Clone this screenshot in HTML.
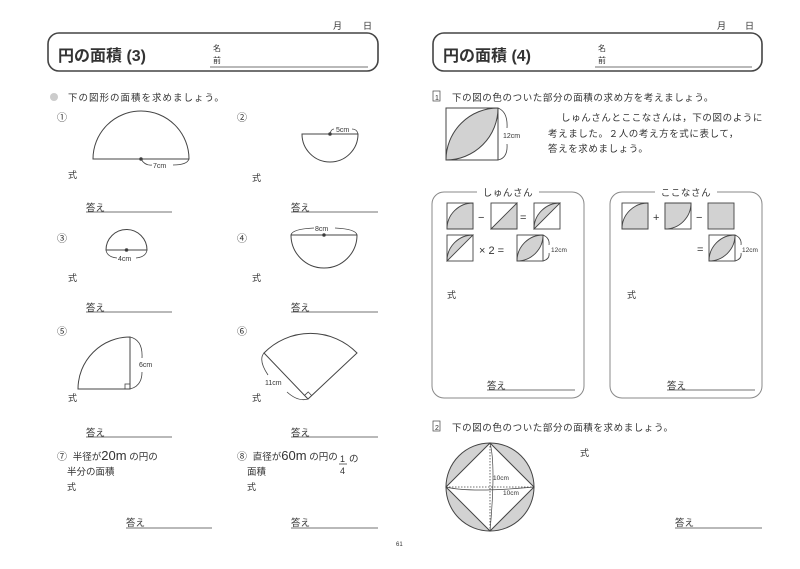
<!DOCTYPE html>
<html><head><meta charset="utf-8"><style>
html,body{margin:0;padding:0;background:#fff;}
svg{display:block;}
text{font-family:"Liberation Sans","Noto Sans CJK JP",sans-serif;fill:#333;}
</style></head><body>
<svg width="800" height="569" viewBox="0 0 800 569" xmlns="http://www.w3.org/2000/svg">
<defs>
<g id="sqQ"><rect x="0" y="0" width="26" height="26" fill="#fff" stroke="#444" stroke-width="0.9"/><path d="M0 26 A26 26 0 0 1 26 0 L26 26 Z" fill="#d2d2d2" stroke="#444" stroke-width="0.9"/></g>
<g id="sqT"><rect x="0" y="0" width="26" height="26" fill="#fff" stroke="#444" stroke-width="0.9"/><path d="M0 26 L26 0 L26 26 Z" fill="#d2d2d2" stroke="#444" stroke-width="0.9"/></g>
<g id="sqS"><rect x="0" y="0" width="26" height="26" fill="#fff" stroke="#444" stroke-width="0.9"/><path d="M0 26 A26 26 0 0 1 26 0 Z" fill="#d2d2d2" stroke="#444" stroke-width="0.9"/></g>
<g id="sqL"><rect x="0" y="0" width="26" height="26" fill="#fff" stroke="#444" stroke-width="0.9"/><path d="M0 26 A26 26 0 0 1 26 0 A26 26 0 0 1 0 26 Z" fill="#d2d2d2" stroke="#444" stroke-width="0.9"/></g>
<g id="sqR"><rect x="0" y="0" width="26" height="26" fill="#fff" stroke="#444" stroke-width="0.9"/><path d="M0 0 L26 0 A26 26 0 0 1 0 26 Z" fill="#d2d2d2" stroke="#444" stroke-width="0.9"/></g>
</defs>
<g stroke="#444" fill="none" stroke-width="1">
<!-- LEFT PAGE -->
<rect x="48" y="33" width="330" height="38" rx="11" stroke-width="1.6"/>
<line x1="210" y1="67" x2="368" y2="67" stroke-width="0.8"/>
<circle cx="54" cy="97" r="4" fill="#ccc" stroke="none"/>
<path d="M93 159 A48 48 0 0 1 189 159 Z"/>
<circle cx="141" cy="159" r="1.3" fill="#333"/>
<path d="M141 159 Q145 166 152 165 M173 165 Q187 165 189 159" stroke-width="0.8"/>
<path d="M302 134 A28 28 0 0 0 358 134 Z"/>
<circle cx="330" cy="134" r="1.3" fill="#333"/>
<path d="M330 134 Q331 129 334 129 M352 129 Q357 129 358 134" stroke-width="0.8"/>
<line x1="86" y1="212" x2="172" y2="212" stroke-width="0.8"/>
<line x1="291" y1="212" x2="378" y2="212" stroke-width="0.8"/>
<path d="M106 250 A20.5 20.5 0 0 1 147 250 Z"/>
<circle cx="126.5" cy="250" r="1.3" fill="#333"/>
<path d="M106 250 Q107 257 117 258 M136 258 Q146 257 147 250" stroke-width="0.8"/>
<path d="M291 235 A33 33 0 0 0 357 235 Z"/>
<circle cx="324" cy="235" r="1.3" fill="#333"/>
<path d="M291 235 Q292 229 314 228 M335 228 Q356 229 357 235" stroke-width="0.8"/>
<line x1="86" y1="312" x2="172" y2="312" stroke-width="0.8"/>
<line x1="291" y1="312" x2="378" y2="312" stroke-width="0.8"/>
<path d="M78 389 A52 52 0 0 1 130 337 L130 389 Z"/>
<rect x="125" y="384" width="5" height="5" stroke-width="0.8"/>
<path d="M130 337 Q143 340 142 358 M142 372 Q142 386 130 389" stroke-width="0.8"/>
<path d="M308 399 L264 353 A65 65 0 0 1 357 353 Z"/>
<path d="M304.5 395.4 L308.2 391.9 L311.7 395.6" stroke-width="0.8"/>
<path d="M264 353 Q258 360 268 375 M287 392 Q298 402 308 399" stroke-width="0.8"/>
<line x1="86" y1="437" x2="172" y2="437" stroke-width="0.8"/>
<line x1="291" y1="437" x2="378" y2="437" stroke-width="0.8"/>
<line x1="126" y1="528" x2="212" y2="528" stroke-width="0.8"/>
<line x1="291" y1="528" x2="378" y2="528" stroke-width="0.8"/>
<line x1="339" y1="464" x2="347" y2="464" stroke-width="0.8"/>

<!-- RIGHT PAGE -->
<rect x="433" y="33" width="329" height="38" rx="11" stroke-width="1.6"/>
<line x1="595" y1="67" x2="752" y2="67" stroke-width="0.8"/>
<rect x="433" y="91" width="7" height="10" stroke-width="0.7"/>
<rect x="446" y="108" width="52" height="52" stroke-width="1"/>
<path d="M446 160 A52 52 0 0 1 498 108 A52 52 0 0 1 446 160 Z" fill="#d2d2d2"/>
<path d="M498 108 Q508 112 507 128 M507 144 Q508 158 498 160" stroke-width="0.8"/>
<rect x="432" y="192" width="152" height="206" rx="12" stroke="#888"/>
<rect x="610" y="192" width="152" height="206" rx="12" stroke="#888"/>
<line x1="487" y1="390" x2="575" y2="390" stroke-width="0.8"/>
<line x1="667" y1="390" x2="755" y2="390" stroke-width="0.8"/>
<path d="M543 235 Q550 238 549 245 M549 253 Q550 259 543 261" stroke-width="0.8"/>
<path d="M735 235 Q742 238 741 245 M741 253 Q742 259 735 261" stroke-width="0.8"/>
<rect x="433" y="421" width="7" height="10" stroke-width="0.7"/>
<circle cx="490" cy="487" r="44" fill="#d2d2d2"/>
<path d="M490 443 L534 487 L490 531 L446 487 Z" fill="#fff"/>
<line x1="446" y1="487" x2="534" y2="487" stroke-dasharray="1.5 1.5" stroke-width="0.8"/>
<line x1="490" y1="443" x2="490" y2="531" stroke-dasharray="1.5 1.5" stroke-width="0.8"/>
<path d="M490 443 Q496 465 490 531" stroke-width="0.7"/>
<path d="M446 487 Q470 493 534 487" stroke-width="0.7"/>
<line x1="675" y1="528" x2="762" y2="528" stroke-width="0.8"/>
</g>
<use href="#sqQ" x="447" y="203"/><use href="#sqT" x="491" y="203"/><use href="#sqS" x="534" y="203"/>
<use href="#sqS" x="447" y="235"/><use href="#sqL" x="517" y="235"/>
<use href="#sqQ" x="622" y="203"/><use href="#sqR" x="665" y="203"/>
<rect x="708" y="203" width="26" height="26" fill="#d2d2d2" stroke="#444" stroke-width="0.9"/>
<use href="#sqL" x="709" y="235"/>
<rect x="477" y="186" width="62" height="14" fill="#fff"/>
<rect x="655" y="186" width="62" height="14" fill="#fff"/>

<text x="333" y="29" font-size="9">月</text><text x="363" y="29" font-size="9">日</text>
<text x="58" y="61" font-size="16" font-weight="bold" fill="#111">円の面積 (3)</text>
<text x="213" y="51" font-size="8">名</text><text x="213" y="63" font-size="8">前</text>
<text x="68" y="101" font-size="9.5" letter-spacing="1">下の図形の面積を求めましょう。</text>
<text x="57" y="121" font-size="10">①</text><text x="237" y="121" font-size="10">②</text>
<text x="153" y="168" font-size="7">7cm</text>
<text x="336" y="132" font-size="7">5cm</text>
<text x="68" y="178" font-size="9">式</text><text x="252" y="181" font-size="9">式</text>
<text x="86" y="211" font-size="9.5">答え</text><text x="291" y="211" font-size="9.5">答え</text>
<text x="57" y="242" font-size="10">③</text><text x="237" y="242" font-size="10">④</text>
<text x="118" y="261" font-size="7">4cm</text><text x="315" y="231" font-size="7">8cm</text>
<text x="68" y="281" font-size="9">式</text><text x="252" y="281" font-size="9">式</text>
<text x="86" y="311" font-size="9.5">答え</text><text x="291" y="311" font-size="9.5">答え</text>
<text x="57" y="335" font-size="10">⑤</text><text x="237" y="335" font-size="10">⑥</text>
<text x="139" y="367" font-size="7">6cm</text>
<text x="265" y="385" font-size="7">11cm</text>
<text x="68" y="401" font-size="9">式</text><text x="252" y="401" font-size="9">式</text>
<text x="86" y="436" font-size="9.5">答え</text><text x="291" y="436" font-size="9.5">答え</text>
<text x="57" y="460" font-size="10">⑦ <tspan dx="3" font-size="9.5">半径が</tspan><tspan font-size="13">20m</tspan><tspan font-size="9.5"> の円の</tspan></text>
<text x="67" y="475" font-size="9.5">半分の面積</text>
<text x="67" y="490" font-size="9">式</text>
<text x="237" y="460" font-size="10">⑧ <tspan dx="3" font-size="9.5">直径が</tspan><tspan font-size="13">60m</tspan><tspan font-size="9.5"> の円の</tspan></text>
<text x="340" y="462" font-size="9">1</text><text x="340" y="474" font-size="9">4</text><text x="349" y="462" font-size="9.5">の</text>
<text x="247" y="475" font-size="9.5">面積</text>
<text x="247" y="490" font-size="9">式</text>
<text x="126" y="526" font-size="9.5">答え</text><text x="291" y="526" font-size="9.5">答え</text>
<text x="396" y="546" font-size="6">61</text>

<text x="717" y="29" font-size="9">月</text><text x="745" y="29" font-size="9">日</text>
<text x="443" y="61" font-size="16" font-weight="bold" fill="#111">円の面積 (4)</text>
<text x="598" y="51" font-size="8">名</text><text x="598" y="63" font-size="8">前</text>
<text x="435" y="100" font-size="7">1</text>
<text x="452" y="101" font-size="9.5" letter-spacing="0.6">下の図の色のついた部分の面積の求め方を考えましょう。</text>
<text x="503" y="138" font-size="7">12cm</text>
<text x="561" y="121" font-size="9.5" letter-spacing="0.6">しゅんさんとここなさんは，下の図のように</text>
<text x="548" y="137" font-size="9.5" letter-spacing="0.6">考えました。２人の考え方を式に表して，</text>
<text x="548" y="152" font-size="9.5" letter-spacing="0.6">答えを求めましょう。</text>
<text x="508" y="196" font-size="9.5" text-anchor="middle" letter-spacing="0.6">しゅんさん</text>
<text x="686" y="196" font-size="9.5" text-anchor="middle" letter-spacing="0.6">ここなさん</text>
<text x="478" y="221" font-size="11">−</text><text x="520" y="221" font-size="11">=</text>
<text x="479" y="254" font-size="11">× 2 =</text>
<text x="551" y="252" font-size="6.5">12cm</text>
<text x="653" y="221" font-size="11">+</text><text x="696" y="221" font-size="11">−</text>
<text x="697" y="253" font-size="11">=</text>
<text x="742" y="252" font-size="6.5">12cm</text>
<text x="447" y="298" font-size="9">式</text><text x="627" y="298" font-size="9">式</text>
<text x="487" y="389" font-size="9.5">答え</text><text x="667" y="389" font-size="9.5">答え</text>
<text x="435" y="430" font-size="7">2</text>
<text x="452" y="431" font-size="9.5" letter-spacing="0.6">下の図の色のついた部分の面積を求めましょう。</text>
<text x="493" y="480" font-size="6.5">10cm</text><text x="503" y="495" font-size="6.5">10cm</text>
<text x="580" y="456" font-size="9">式</text>
<text x="675" y="526" font-size="9.5">答え</text>
</svg>
</body></html>
